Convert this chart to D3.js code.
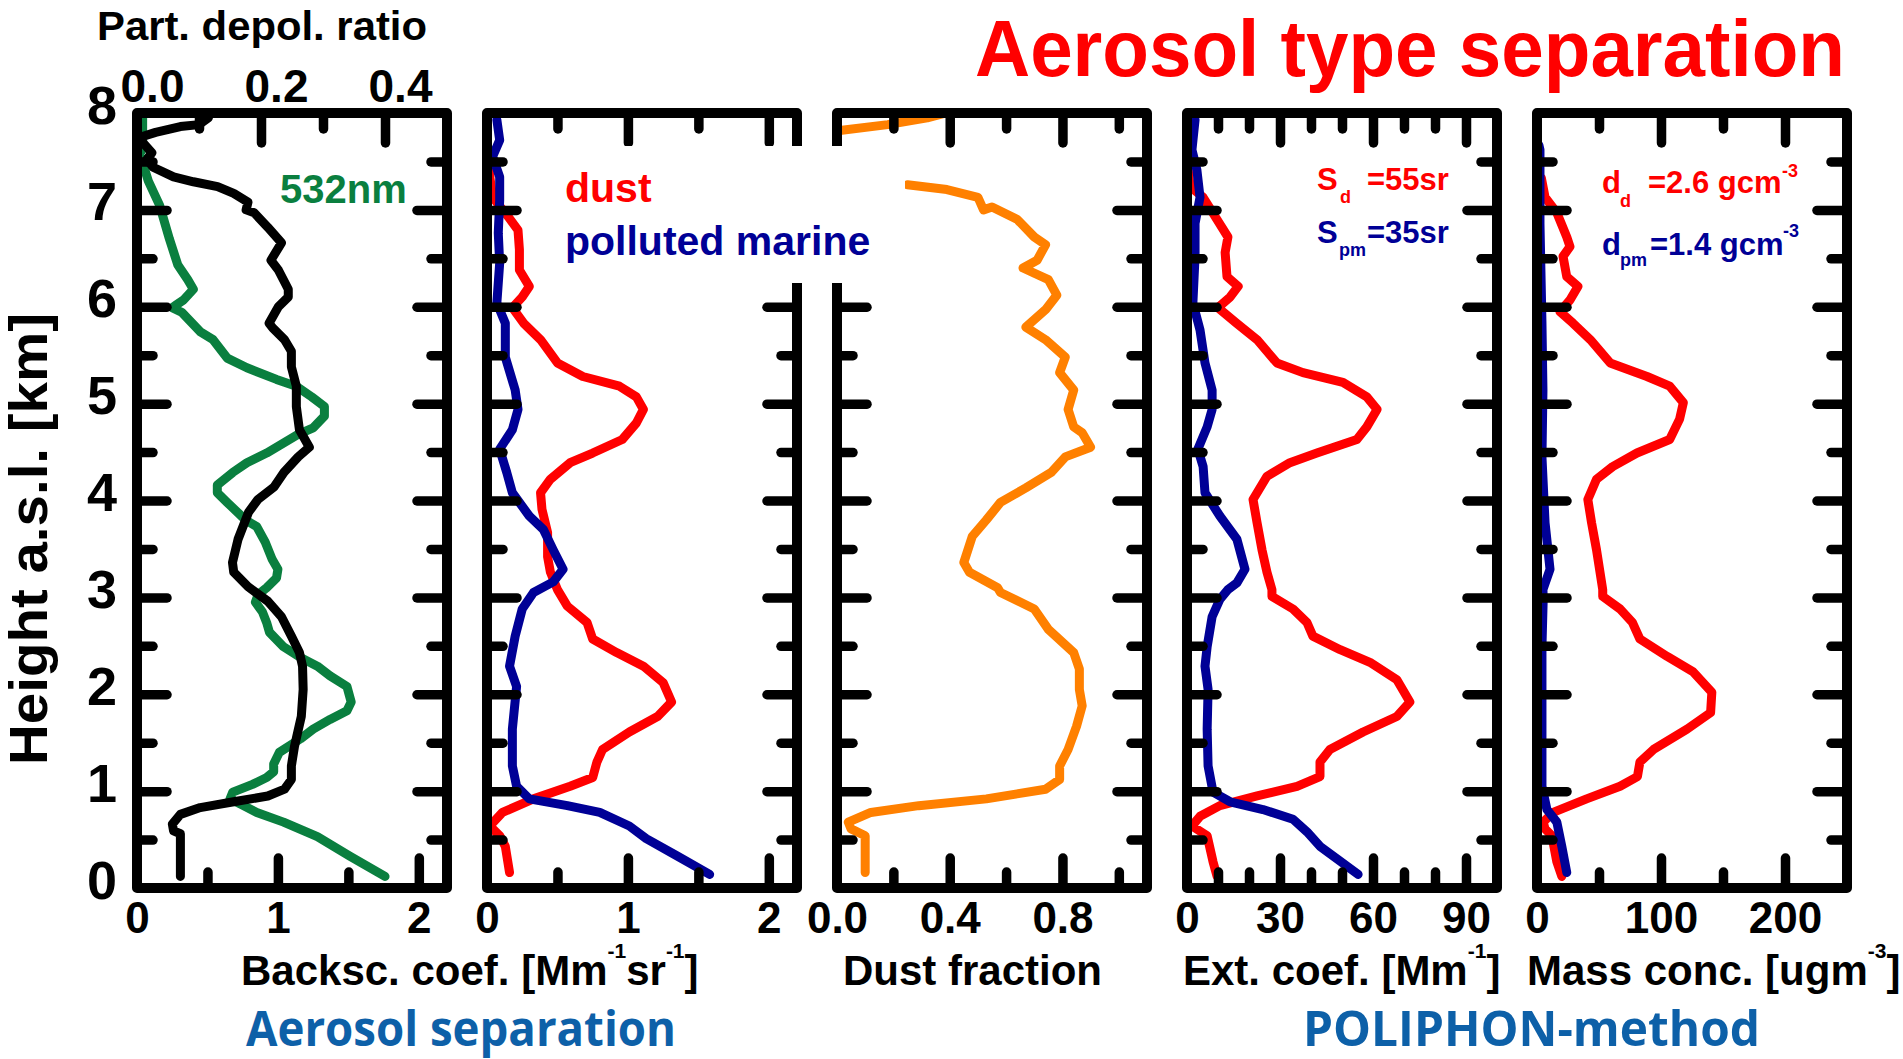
<!DOCTYPE html>
<html><head><meta charset="utf-8">
<script src="https://cdn.jsdelivr.net/npm/d3@7"></script>
<style>body{margin:0;background:#fff;} svg{display:block}</style>
</head><body>
<svg id="chart" width="1903" height="1059"></svg>
<script>
// ---------------- DATA ([height km, value]) ----------------
const backsc532 = [[7.95,0.04],[7.63,0.04],[7.58,0.02],[7.3,0.08],[7.05,0.16],[6.7,0.23],[6.43,0.29],[6.28,0.36],[6.18,0.40],[6.07,0.33],[6.02,0.28],[5.99,0.25],[5.94,0.32],[5.74,0.45],[5.66,0.54],[5.47,0.64],[5.37,0.78],[5.25,0.99],[5.18,1.13],[5.07,1.24],[4.97,1.33],[4.87,1.33],[4.75,1.25],[4.68,1.14],[4.49,0.92],[4.39,0.78],[4.29,0.68],[4.16,0.57],[4.08,0.57],[3.98,0.64],[3.80,0.77],[3.73,0.85],[3.57,0.91],[3.39,0.96],[3.29,1.0],[3.2,0.99],[3.1,0.92],[3.03,0.86],[2.95,0.84],[2.85,0.89],[2.74,0.92],[2.64,0.94],[2.49,1.04],[2.38,1.16],[2.29,1.28],[2.19,1.37],[2.08,1.49],[1.92,1.52],[1.83,1.49],[1.74,1.37],[1.64,1.25],[1.54,1.16],[1.40,1.01],[1.28,0.97],[1.2,0.97],[1.14,0.92],[1.07,0.82],[0.99,0.68],[0.92,0.66],[0.87,0.73],[0.78,0.85],[0.68,1.04],[0.53,1.28],[0.33,1.51],[0.12,1.76]];
const depolRatio = [[8.05,0.12],[7.95,0.115],[7.88,0.10],[7.86,0.07],[7.8,0.03],[7.75,0.005],[7.69,0.01],[7.59,0.024],[7.52,0.016],[7.44,0.026],[7.34,0.059],[7.29,0.091],[7.24,0.13],[7.17,0.156],[7.08,0.179],[7.0,0.176],[6.97,0.189],[6.82,0.211],[6.66,0.233],[6.48,0.216],[6.38,0.228],[6.18,0.244],[6.1,0.244],[6.0,0.228],[5.83,0.213],[5.78,0.219],[5.66,0.238],[5.54,0.249],[5.38,0.249],[5.18,0.257],[4.97,0.257],[4.73,0.262],[4.55,0.278],[4.45,0.26],[4.29,0.237],[4.14,0.221],[4.01,0.195],[3.88,0.18],[3.6,0.163],[3.36,0.154],[3.26,0.156],[3.11,0.179],[2.96,0.211],[2.80,0.233],[2.60,0.249],[2.43,0.262],[2.29,0.267],[2.05,0.268],[1.77,0.265],[1.46,0.254],[1.26,0.249],[1.12,0.249],[1.02,0.238],[0.95,0.211],[0.89,0.156],[0.83,0.102],[0.76,0.07],[0.66,0.057],[0.59,0.059],[0.56,0.07],[0.12,0.07]];
const backscDust = [[7.65,0.0],[7.34,0.02],[7.13,0.04],[6.93,0.15],[6.79,0.22],[6.59,0.23],[6.38,0.23],[6.21,0.3],[6.1,0.25],[5.99,0.18],[5.83,0.26],[5.66,0.38],[5.42,0.5],[5.28,0.68],[5.18,0.94],[5.07,1.06],[4.94,1.11],[4.8,1.06],[4.63,0.96],[4.49,0.75],[4.39,0.59],[4.22,0.45],[4.08,0.38],[3.91,0.39],[3.67,0.43],[3.42,0.43],[3.26,0.45],[3.08,0.5],[2.91,0.57],[2.74,0.71],[2.57,0.75],[2.43,0.92],[2.29,1.11],[2.12,1.25],[1.92,1.31],[1.77,1.21],[1.61,1.01],[1.43,0.82],[1.3,0.78],[1.14,0.75],[1.05,0.59],[0.92,0.33],[0.78,0.11],[0.64,0.02],[0.54,0.09],[0.43,0.13],[0.16,0.16]];
const backscMarine = [[7.93,0.07],[7.72,0.09],[7.55,0.04],[7.34,0.09],[7.1,0.09],[6.76,0.08],[6.45,0.09],[6.04,0.07],[5.83,0.13],[5.48,0.13],[5.14,0.2],[4.94,0.22],[4.73,0.18],[4.53,0.09],[4.29,0.14],[4.08,0.18],[3.84,0.3],[3.7,0.4],[3.49,0.47],[3.29,0.54],[3.16,0.47],[3.05,0.33],[2.88,0.25],[2.6,0.2],[2.29,0.16],[2.08,0.21],[1.64,0.18],[1.26,0.18],[1.05,0.21],[0.92,0.3],[0.85,0.57],[0.78,0.8],[0.64,1.01],[0.51,1.13],[0.33,1.35],[0.14,1.58]];
const dustFraction = [[7.82,0.01],[7.88,0.18],[7.95,0.32],[8.05,0.45],[7.5,null],[7.26,0.25],[7.21,0.39],[7.13,0.5],[7.0,0.52],[7.03,0.55],[6.9,0.64],[6.72,0.7],[6.64,0.74],[6.48,0.71],[6.4,0.66],[6.28,0.75],[6.12,0.78],[5.97,0.74],[5.79,0.67],[5.66,0.74],[5.48,0.81],[5.32,0.79],[5.14,0.84],[4.94,0.82],[4.76,0.84],[4.7,0.87],[4.55,0.9],[4.45,0.81],[4.29,0.76],[4.13,0.67],[3.98,0.58],[3.8,0.53],[3.63,0.48],[3.36,0.45],[3.26,0.47],[3.1,0.57],[3.05,0.58],[2.88,0.7],[2.67,0.75],[2.43,0.84],[2.26,0.86],[2.05,0.86],[1.88,0.87],[1.67,0.85],[1.43,0.82],[1.26,0.79],[1.12,0.79],[1.02,0.74],[0.92,0.53],[0.85,0.29],[0.78,0.12],[0.68,0.04],[0.61,0.05],[0.54,0.1],[0.16,0.1]];
const extDust = [[7.44,0.3],[7.24,1.0],[7.13,5.2],[6.9,9.7],[6.72,13.2],[6.56,12.3],[6.31,12.9],[6.21,16.5],[6.1,13.9],[5.99,10],[5.83,16],[5.66,22.6],[5.42,29],[5.32,37.4],[5.22,50.3],[5.07,58],[4.94,61.3],[4.76,58],[4.63,54.8],[4.49,41.9],[4.39,33.2],[4.25,25.8],[4.01,21.3],[3.77,22.6],[3.49,24.2],[3.26,25.8],[3.08,27.4],[3.01,27.4],[2.88,34.2],[2.74,38.7],[2.6,40.6],[2.46,49.4],[2.33,59],[2.15,67.7],[1.92,71.9],[1.77,67.7],[1.61,56.8],[1.43,46.1],[1.3,42.9],[1.15,42.9],[1.05,35.5],[0.95,22.6],[0.85,10.6],[0.74,4.2],[0.64,1.6],[0.54,6.5],[0.27,8.4],[0.12,9.7]];
const extMarine = [[7.93,2.6],[7.62,1.6],[7.41,3.2],[7.13,4.2],[6.86,2.6],[6.52,2.6],[6.04,1.9],[5.76,4.2],[5.42,5.8],[5.14,8.1],[4.94,8.1],[4.76,6.5],[4.53,3.5],[4.35,5.2],[4.08,5.8],[3.84,10.6],[3.6,16.1],[3.29,18.7],[3.15,16.1],[3.08,13.2],[2.98,10.6],[2.8,8.1],[2.49,6.5],[2.29,5.8],[2.05,6.8],[1.64,6.5],[1.26,6.8],[0.99,8.4],[0.89,13.9],[0.81,24.5],[0.71,34.2],[0.58,38.7],[0.43,42.9],[0.3,48.4],[0.14,55.2]];
const massDust = [[7.33,3.5],[7.13,6.5],[6.97,16],[6.72,24],[6.62,26.6],[6.52,21],[6.31,24],[6.21,33],[6.07,26.6],[5.95,18.5],[5.83,29],[5.66,43],[5.42,59],[5.28,88.7],[5.18,107],[5.01,118],[4.84,115],[4.63,107],[4.49,80.6],[4.35,61],[4.22,48],[4.01,41],[3.77,44],[3.49,48],[3.08,53],[3.01,53],[2.88,67],[2.74,77],[2.57,83],[2.39,105],[2.23,126],[2.02,141],[1.81,140],[1.64,121],[1.43,94],[1.3,83],[1.15,81],[1.05,67],[0.92,40],[0.78,13],[0.68,5],[0.61,6.5],[0.54,12],[0.27,16],[0.12,20]];
const massMarine = [[7.67,1.5],[7.62,2.4],[6.86,2.4],[5.83,4],[5.14,4.8],[4.45,4],[3.77,6.5],[3.29,10.5],[3.08,4.8],[2.98,5],[2.49,4],[1.81,4],[1.05,4],[0.81,8],[0.68,16],[0.43,20],[0.16,24]];

// ---------------- TICKS ----------------
const heightLabels = [0,1,2,3,4,5,6,7,8];
const heightMajor = [1,2,3,4,5,6,7];
const heightMinor = [0.5,1.5,2.5,3.5,4.5,5.5,6.5,7.5];
const bscLabels = [0,1,2], bscMajor = [1,2], bscMinor = [0.5,1.5];
const depolLabels = [0.0,0.2,0.4], depolMajor = [0.2,0.4], depolMinor = [0.1,0.3];
const fracLabels = [0.0,0.4,0.8], fracMajor = [0.4,0.8], fracMinor = [0.2,0.6,1.0];
const extLabels = [0,30,60,90], extMajor = [30,60,90], extMinor = [10,20,40,50,70,80];
const massLabels = [0,100,200], massMajor = [100,200], massMinor = [50,150];

// ---------------- LAYOUT ----------------
const svg = d3.select("#chart");
const TOP = 113, BOTTOM = 888, PW = 310;
const lefts = [137, 487, 837, 1187, 1537];
const FONT = "'Liberation Sans', Arial, Helvetica, sans-serif";
const RED = "#ff0000", NAVY = "#000096", GREEN = "#0a7f3f", ORANGE = "#ff8000";
const y = d3.scaleLinear().domain([0, 8]).range([BOTTOM, TOP]);

const panels = [
  {dom:[0,2.2], major:bscMajor, minor:bscMinor, labels:bscLabels, fmt:d3.format("d"),
   top:{dom:[0,0.5], major:depolMajor, minor:depolMinor, labels:depolLabels, fmt:d3.format(".1f")},
   series:[{data:backsc532, color:GREEN},{data:depolRatio, color:"#000", useTop:true}]},
  {dom:[0,2.2], major:bscMajor, minor:bscMinor, labels:bscLabels, fmt:d3.format("d"),
   series:[{data:backscDust, color:RED},{data:backscMarine, color:NAVY}]},
  {dom:[0,1.1], major:fracMajor, minor:fracMinor, labels:fracLabels, fmt:d3.format(".1f"),
   series:[{data:dustFraction, color:ORANGE}]},
  {dom:[0,100], major:extMajor, minor:extMinor, labels:extLabels, fmt:d3.format("d"),
   series:[{data:extDust, color:RED},{data:extMarine, color:NAVY}]},
  {dom:[0,250], major:massMajor, minor:massMinor, labels:massLabels, fmt:d3.format("d"),
   series:[{data:massDust, color:RED},{data:massMarine, color:NAVY}]}
];

const MAJ = 30, MIN = 16;
function styleTicks(g){
  g.select(".domain").remove();
  g.selectAll(".tick line").attr("stroke","#000").attr("stroke-width",9.5).attr("stroke-linecap","round");
}
const defs = svg.append("defs");

panels.forEach((p, i) => {
  const x0 = lefts[i], x1 = x0 + PW;
  const x = d3.scaleLinear().domain(p.dom).range([x0, x1]);
  const xt = p.top ? d3.scaleLinear().domain(p.top.dom).range([x0, x1]) : x;
  defs.append("clipPath").attr("id","clip"+i).append("rect")
    .attr("x",x0).attr("y",TOP).attr("width",PW).attr("height",BOTTOM-TOP);
  const gLines = svg.append("g").attr("clip-path","url(#clip"+i+")");
  p.series.forEach(s => {
    const xs = s.useTop ? xt : x;
    const line = d3.line().defined(d => d[1] != null).x(d => xs(d[1])).y(d => y(d[0]));
    gLines.append("path").datum(s.data).attr("d", line)
      .attr("fill","none").attr("stroke", s.color).attr("stroke-width",9)
      .attr("stroke-linejoin","round").attr("stroke-linecap","round");
  });
  // frame
  svg.append("rect").attr("x",x0).attr("y",TOP).attr("width",PW).attr("height",BOTTOM-TOP)
    .attr("fill","none").attr("stroke","#000").attr("stroke-width",10).attr("stroke-linejoin","round");
  // ticks
  const add = (axis, tx, ty, vals, size) => {
    svg.append("g").attr("transform",`translate(${tx},${ty})`)
      .call(axis.tickValues(vals).tickSize(-size).tickFormat("")).call(styleTicks);
  };
  add(d3.axisLeft(y), x0, 0, heightMajor, MAJ);
  add(d3.axisLeft(y), x0, 0, heightMinor, MIN);
  add(d3.axisRight(y), x1, 0, heightMajor, MAJ);
  add(d3.axisRight(y), x1, 0, heightMinor, MIN);
  add(d3.axisBottom(x), 0, BOTTOM, p.major, MAJ);
  add(d3.axisBottom(x), 0, BOTTOM, p.minor, MIN);
  const tp = p.top || p;
  add(d3.axisTop(xt), 0, TOP, tp.major, MAJ);
  add(d3.axisTop(xt), 0, TOP, tp.minor, MIN);
  // bottom labels
  const gl = svg.append("g").attr("transform",`translate(0,${BOTTOM})`)
    .call(d3.axisBottom(x).tickValues(p.labels).tickSize(0).tickFormat(p.fmt));
  gl.select(".domain").remove();
  gl.selectAll("text").attr("y",45).attr("dy",null)
    .attr("font-family",FONT).attr("font-weight","bold").attr("font-size",44).attr("fill","#000");
  if (p.top) {
    const gt = svg.append("g").attr("transform",`translate(0,${TOP})`)
      .call(d3.axisTop(xt).tickValues(p.top.labels).tickSize(0).tickFormat(p.top.fmt));
    gt.select(".domain").remove();
    gt.selectAll("text").attr("y",-11).attr("dy",null).attr("x",15)
      .attr("font-family",FONT).attr("font-weight","bold").attr("font-size",46).attr("fill","#000");
  }
  if (i === 0) {
    const gy = svg.append("g").attr("transform",`translate(${x0},0)`)
      .call(d3.axisLeft(y).tickValues(heightLabels).tickSize(0).tickFormat(d3.format("d")));
    gy.select(".domain").remove();
    gy.selectAll("text").attr("x",-20).attr("y",10).attr("dy",null)
      .attr("font-family",FONT).attr("font-weight","bold").attr("font-size",54).attr("fill","#000");
  }
});

// legend box (white) between panel 2 and 3
svg.append("rect").attr("x",556).attr("y",146).attr("width",349).attr("height",137).attr("fill","#fff");

// ---------------- TEXTS ----------------
function txt(s, xp, yp, size, color, opts={}) {
  const t = svg.append("text").attr("x",xp).attr("y",yp).attr("font-size",size)
    .attr("font-family",opts.family||FONT).attr("font-weight",opts.weight||"bold")
    .attr("fill",color).attr("text-anchor",opts.anchor||"start").text(s);
  if (opts.len) t.attr("textLength",opts.len).attr("lengthAdjust","spacingAndGlyphs");
  return t;
}
function supTitle(parts, xp, yp) {
  const t = svg.append("text").attr("x",xp).attr("y",yp).attr("font-family",FONT)
    .attr("font-weight","bold").attr("font-size",42).attr("fill","#000");
  parts.forEach(pt => {
    if (pt.sup) {
      t.append("tspan").attr("font-size",21).attr("dy",-27).text(pt.sup);
    } else {
      t.append("tspan").attr("dy", pt.after ? 27 : 0).text(pt.s);
    }
  });
  return t;
}

// top axis title
txt("Part. depol. ratio", 262, 40, 41, "#000", {anchor:"middle", len:330});
// y title
svg.append("text").attr("transform","translate(47,539) rotate(-90)")
  .attr("text-anchor","middle").attr("font-family",FONT).attr("font-weight","bold")
  .attr("font-size",53).attr("textLength",452).attr("lengthAdjust","spacingAndGlyphs")
  .attr("fill","#000").text("Height a.s.l. [km]");

// x titles
supTitle([{s:"Backsc. coef. [Mm"},{sup:"-1"},{s:"sr",after:true},{sup:"-1"},{s:"]",after:true}], 241, 985);
txt("Dust fraction", 843, 985, 42, "#000");
supTitle([{s:"Ext. coef. [Mm"},{sup:"-1"},{s:"]",after:true}], 1183, 985);
supTitle([{s:"Mass conc. [ugm"},{sup:"-3"},{s:"]",after:true}], 1527, 985);

// legends
txt("532nm", 280, 203, 40, GREEN);
txt("dust", 565, 202, 41, RED);
txt("polluted marine", 565, 255, 41, NAVY);

txt("S", 1317, 190, 31, RED);
txt("d", 1340, 203, 18, RED);
txt("=55sr", 1367, 190, 31, RED);
txt("S", 1317, 243, 31, NAVY);
txt("pm", 1339, 256, 18, NAVY);
txt("=35sr", 1367, 243, 31, NAVY);

txt("d", 1602, 193, 31, RED);
txt("d", 1620, 207, 18, RED);
txt("=2.6 gcm", 1648, 193, 31, RED);
txt("-3", 1782, 177, 18, RED);
txt("d", 1602, 255, 31, NAVY);
txt("pm", 1620, 266, 18, NAVY);
txt("=1.4 gcm", 1650, 255, 31, NAVY);
txt("-3", 1783, 237, 18, NAVY);

// headings
const HF = "'Open Sans', 'Noto Sans', sans-serif";
txt("Aerosol type separation", 975, 76, 79, "#ff0000", {family:FONT, len:870});
txt("Aerosol separation", 246, 1046, 49, "#0d60a8", {family:HF, len:430});
txt("POLIPHON-method", 1303, 1046, 49, "#0d60a8", {family:HF, len:457});
</script>
</body></html>
